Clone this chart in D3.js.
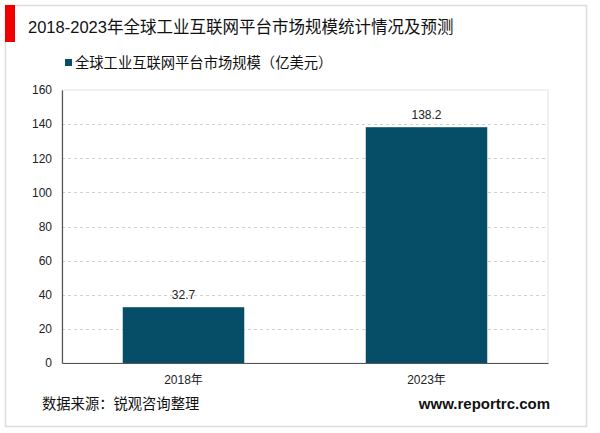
<!DOCTYPE html>
<html><head><meta charset="utf-8">
<script src="https://cdn.jsdelivr.net/npm/d3@7"></script>
<style>
body{margin:0;background:#fff;}
svg{display:block;}
text{font-family:"Liberation Sans",Arial,"Noto Sans CJK SC",sans-serif;}
</style></head>
<body><svg id="c" width="600" height="433"></svg>
<script>
const categories = ["2018年", "2023年"];
const values = [32.7, 138.2];
const yTicks = [0, 20, 40, 60, 80, 100, 120, 140, 160];
const title = "2018-2023年全球工业互联网平台市场规模统计情况及预测";
const seriesName = "全球工业互联网平台市场规模（亿美元）";
const source = "数据来源：锐观咨询整理";
const site = "www.reportrc.com";

const svg = d3.select("#c");
const barColor = "#064e68";

// frame
svg.append("rect").attr("x",5.5).attr("y",5.5).attr("width",581).attr("height",421)
  .attr("fill","#fff").attr("stroke","#dcdcdc").attr("stroke-width",1.5);
svg.append("rect").attr("x",5).attr("y",5).attr("width",10).attr("height",37).attr("fill","#f00000");
svg.append("text").attr("x",28).attr("y",33).attr("font-size",16.5).attr("fill","#111").text(title);

// legend
svg.append("rect").attr("x",65).attr("y",59).attr("width",7).attr("height",7).attr("fill",barColor);
svg.append("text").attr("x",75).attr("y",67.5).attr("font-size",14.3).attr("fill","#111").text(seriesName);

const m = {l:62, r:548, t:90, b:363};
const x = d3.scaleBand().domain(categories).range([m.l, m.r]).paddingInner(0.5).paddingOuter(0.25);
const y = d3.scaleLinear().domain([0,160]).range([m.b, m.t]);

// plot border (light)
svg.append("rect").attr("x",m.l).attr("y",m.t).attr("width",m.r-m.l).attr("height",m.b-m.t)
  .attr("fill","none").attr("stroke","#e3e3e3").attr("stroke-width",1);

// grid
svg.append("g").selectAll("line").data(yTicks.filter(d=>d>0 && d<160)).join("line")
  .attr("x1",m.l).attr("x2",m.r).attr("y1",d=>Math.round(y(d))+0.5).attr("y2",d=>Math.round(y(d))+0.5)
  .attr("stroke","#d0d0d0").attr("stroke-dasharray","3,3");

// y axis
const ya = svg.append("g").attr("transform",`translate(${m.l},0)`)
  .call(d3.axisLeft(y).tickValues(yTicks).tickSize(0).tickPadding(10));
ya.select(".domain").attr("stroke","#555").attr("stroke-width",1.2);
ya.selectAll("text").attr("font-size",12).attr("fill","#222")
  .attr("font-family",'"Liberation Sans",Arial,sans-serif');

// bars
svg.append("g").selectAll("rect").data(values).join("rect")
  .attr("x",(d,i)=>x(categories[i])).attr("width",x.bandwidth())
  .attr("y",d=>y(d)).attr("height",d=>y(0)-y(d)).attr("fill",barColor);

// labels
svg.append("g").selectAll("text").data(values).join("text")
  .attr("x",(d,i)=>x(categories[i])+x.bandwidth()/2).attr("y",d=>y(d)-8)
  .attr("text-anchor","middle").attr("font-size",12).attr("fill","#222").text(d=>d.toFixed(1));

// x axis
const xa = svg.append("g").attr("transform",`translate(0,${m.b})`)
  .call(d3.axisBottom(x).tickSize(0).tickPadding(12));
xa.select(".domain").attr("stroke","#555").attr("stroke-width",1.2);
xa.selectAll("text").attr("font-size",12).attr("fill","#222")
  .attr("font-family",'"Liberation Sans",Arial,"Noto Sans CJK SC",sans-serif');

svg.append("text").attr("x",42).attr("y",409).attr("font-size",14.3).attr("fill","#111").text(source);
svg.append("text").attr("x",550).attr("y",409).attr("text-anchor","end").attr("font-size",15)
  .attr("font-weight","bold").attr("fill","#111").attr("font-family",'"Open Sans","DejaVu Sans",sans-serif').text(site);
</script></body></html>
